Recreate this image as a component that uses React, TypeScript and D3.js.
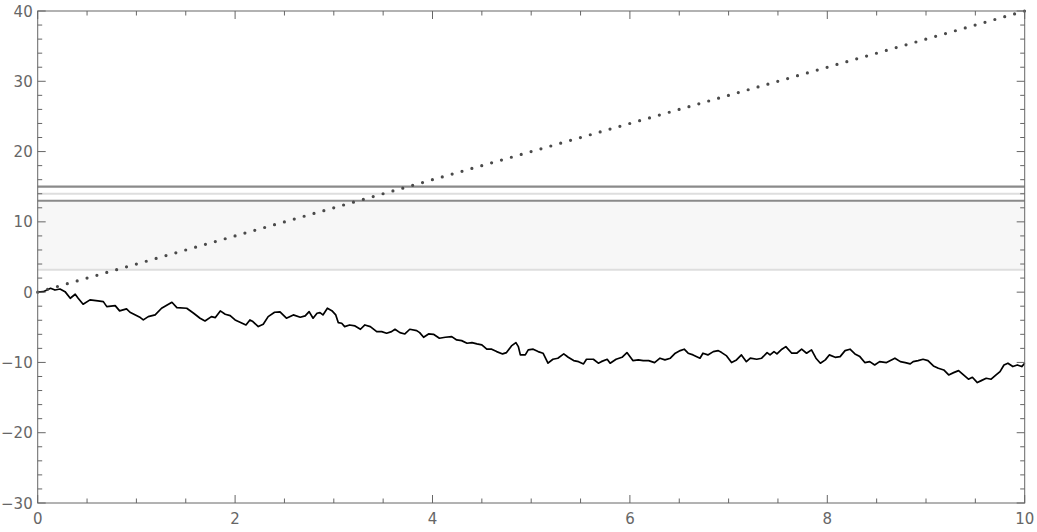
import React from "react";
import * as d3 from "d3";

// time points and values of the random path
const walkT = [
  0, 0.057, 0.13, 0.175, 0.226, 0.277, 0.33, 0.38, 0.41, 0.46, 0.53, 0.61, 0.665, 0.7, 0.785, 0.83, 0.9, 0.935,
  1.0, 1.04, 1.07, 1.12, 1.19, 1.255, 1.36, 1.41, 1.51, 1.58, 1.645, 1.695, 1.76, 1.8, 1.85, 1.9, 1.95,
  2.0, 2.05, 2.11, 2.15, 2.18, 2.235, 2.285, 2.335, 2.4, 2.455, 2.52, 2.59, 2.66, 2.71, 2.75, 2.79, 2.83, 2.86, 2.89, 2.935, 2.98,
  3.02, 3.045, 3.08, 3.11, 3.16, 3.215, 3.27, 3.315, 3.37, 3.435, 3.485, 3.535, 3.585, 3.62, 3.67, 3.72, 3.77, 3.84, 3.87, 3.91, 3.96,
  4.01, 4.07, 4.13, 4.195, 4.245, 4.295, 4.35, 4.4, 4.45, 4.5, 4.55, 4.6, 4.65, 4.71, 4.75, 4.8, 4.845, 4.87, 4.89, 4.94, 4.97,
  5.02, 5.07, 5.12, 5.17, 5.22, 5.27, 5.33, 5.375, 5.43, 5.48, 5.53, 5.56, 5.63, 5.68, 5.71, 5.77, 5.8, 5.86, 5.92, 5.97,
  6.0, 6.03, 6.085, 6.135, 6.19, 6.25, 6.305, 6.355, 6.41, 6.46, 6.51, 6.55, 6.59, 6.64, 6.71, 6.74, 6.79, 6.845, 6.895, 6.93, 6.98,
  7.03, 7.08, 7.13, 7.18, 7.22, 7.285, 7.335, 7.39, 7.42, 7.46, 7.49, 7.54, 7.58, 7.64, 7.69, 7.74, 7.79, 7.84, 7.885, 7.93, 7.98,
  8.02, 8.08, 8.13, 8.18, 8.23, 8.28, 8.33, 8.38, 8.43, 8.48, 8.53, 8.6, 8.685, 8.74, 8.79, 8.84, 8.87, 8.92, 8.97,
  9.02, 9.075, 9.125, 9.18, 9.23, 9.28, 9.33, 9.38, 9.43, 9.47, 9.52, 9.56, 9.61, 9.66, 9.71, 9.75, 9.79, 9.83, 9.88, 9.925, 9.97, 10.0,
];
const walkV = [
  0, 0.07, 0.55, 0.3, 0.45, 0.07, -0.87, -0.3, -0.87, -1.72, -1.1, -1.25, -1.35, -2.06, -1.92, -2.67, -2.39, -2.86,
  -3.34, -3.62, -3.95, -3.48, -3.24, -2.29, -1.44, -2.2, -2.29, -3.0, -3.71, -4.1, -3.48, -3.62, -2.67, -3.14, -3.34,
  -3.95, -4.28, -4.67, -3.95, -4.19, -4.9, -4.57, -3.48, -2.86, -2.8, -3.71, -3.24, -3.57, -3.38, -2.77, -3.71, -3.0, -2.91, -3.24, -2.29, -2.63,
  -3.24, -4.33, -4.43, -4.9, -4.67, -4.81, -5.28, -4.67, -4.9, -5.62, -5.62, -5.85, -5.62, -5.28, -5.76, -5.95, -5.28, -5.48, -5.76, -6.42, -5.95,
  -6.0, -6.56, -6.42, -6.33, -6.8, -6.9, -7.27, -7.18, -7.37, -7.51, -8.12, -8.12, -8.46, -8.79, -8.6, -7.65, -7.18, -7.75, -8.93, -8.93, -8.22,
  -8.12, -8.46, -8.69, -10.11, -9.55, -9.4, -8.79, -9.27, -9.74, -9.89, -10.21, -9.55, -9.55, -10.11, -9.89, -9.55, -10.11, -9.55, -9.27, -8.6,
  -9.17, -9.74, -9.64, -9.74, -9.74, -10.02, -9.4, -9.64, -9.4, -8.69, -8.32, -8.12, -8.69, -8.93, -9.4, -8.69, -8.93, -8.46, -8.32, -8.6, -9.07,
  -10.02, -9.64, -8.93, -9.89, -9.4, -9.55, -9.4, -8.6, -8.93, -8.46, -8.79, -8.12, -7.75, -8.69, -8.69, -8.12, -8.69, -8.22, -9.4, -10.11, -9.64,
  -8.93, -9.27, -9.17, -8.32, -8.12, -8.79, -9.17, -10.02, -9.89, -10.36, -9.89, -10.02, -9.4, -9.89, -10.02, -10.21, -9.89, -9.74, -9.55,
  -9.74, -10.5, -10.83, -11.07, -11.78, -11.45, -11.17, -11.78, -12.39, -12.11, -12.87, -12.59, -12.25, -12.39, -11.78, -11.31, -10.36, -10.11, -10.59, -10.36, -10.59, -10.11,
];

// straight dotted line: endpoints
const trendT = [0, 10];
const trendV = [0, 40];

// horizontal reference levels
const darkLevels = [15, 13];
const lightLevels = [14, 3.2];
const bandRange = [3.2, 13];

const xTicks = [0, 2, 4, 6, 8, 10];
const yTicks = [-30, -20, -10, 0, 10, 20, 30, 40];

const W = 1037;
const H = 532;
const left = 37.7;
const right = 1024.7;
const top = 11;
const bottom = 503;

export default function App() {
  const x = d3.scaleLinear().domain([0, 10]).range([left, right]);
  const y = d3.scaleLinear().domain([-30, 40]).range([bottom, top]);

  const walk = walkT.map((t, i) => [t, walkV[i]] as [number, number]);
  const lineGen = d3
    .line<[number, number]>()
    .x((d) => x(d[0]))
    .y((d) => y(d[1]));

  const trend = trendT.map((t, i) => [t, trendV[i]] as [number, number]);

  const xMinor = d3.range(0, 10.001, 0.5).filter((v) => !xTicks.includes(v));
  const yMinor = d3.range(-30, 40.001, 2).filter((v) => !yTicks.includes(v));

  const frame = "#666";
  const label = "#666";
  const major = 8;
  const minor = 4.5;

  return (
    <svg
      width={W}
      height={H}
      style={{ position: "absolute", left: 0, top: 0, background: "#fff" }}
      fontFamily="'DejaVu Sans', sans-serif"
    >
      {/* band */}
      <rect
        x={x(0)}
        width={x(10) - x(0)}
        y={y(bandRange[1])}
        height={y(bandRange[0]) - y(bandRange[1])}
        fill="#f7f7f7"
      />
      {lightLevels.map((v) => (
        <line key={"l" + v} x1={x(0)} x2={x(10)} y1={y(v)} y2={y(v)} stroke="#dedede" strokeWidth={2} />
      ))}
      {darkLevels.map((v) => (
        <line key={"d" + v} x1={x(0)} x2={x(10)} y1={y(v)} y2={y(v)} stroke="#8a8a8a" strokeWidth={2.2} />
      ))}

      {/* random path */}
      <path d={lineGen(walk) || ""} fill="none" stroke="#000" strokeWidth={1.7} strokeLinejoin="round" />

      {/* dotted trend */}
      <path
        d={lineGen(trend) || ""}
        fill="none"
        stroke="#4a4a4a"
        strokeWidth={3.2}
        strokeLinecap="round"
        strokeDasharray="0 10.26"
      />

      {/* frame */}
      <rect x={left} y={top} width={right - left} height={bottom - top} fill="none" stroke={frame} strokeWidth={1} />

      {xTicks.map((v) => (
        <g key={"xt" + v} stroke={frame}>
          <line x1={x(v)} x2={x(v)} y1={bottom} y2={bottom - major} />
          <line x1={x(v)} x2={x(v)} y1={top} y2={top + major} />
        </g>
      ))}
      {xMinor.map((v) => (
        <g key={"xm" + v} stroke={frame}>
          <line x1={x(v)} x2={x(v)} y1={bottom} y2={bottom - minor} />
          <line x1={x(v)} x2={x(v)} y1={top} y2={top + minor} />
        </g>
      ))}
      {yTicks.map((v) => (
        <g key={"yt" + v} stroke={frame}>
          <line x1={left} x2={left + major} y1={y(v)} y2={y(v)} />
          <line x1={right} x2={right - major} y1={y(v)} y2={y(v)} />
        </g>
      ))}
      {yMinor.map((v) => (
        <g key={"ym" + v} stroke={frame}>
          <line x1={left} x2={left + minor} y1={y(v)} y2={y(v)} />
          <line x1={right} x2={right - minor} y1={y(v)} y2={y(v)} />
        </g>
      ))}

      {xTicks.map((v) => (
        <text key={"xl" + v} x={x(v)} y={bottom + 21} textAnchor="middle" fontSize={15} fill={label}>
          {v}
        </text>
      ))}
      {yTicks.map((v) => (
        <text key={"yl" + v} x={left - 5} y={y(v) + 5.5} textAnchor="end" fontSize={15} fill={label}>
          {v < 0 ? "\u2212" + Math.abs(v) : v}
        </text>
      ))}
    </svg>
  );
}
